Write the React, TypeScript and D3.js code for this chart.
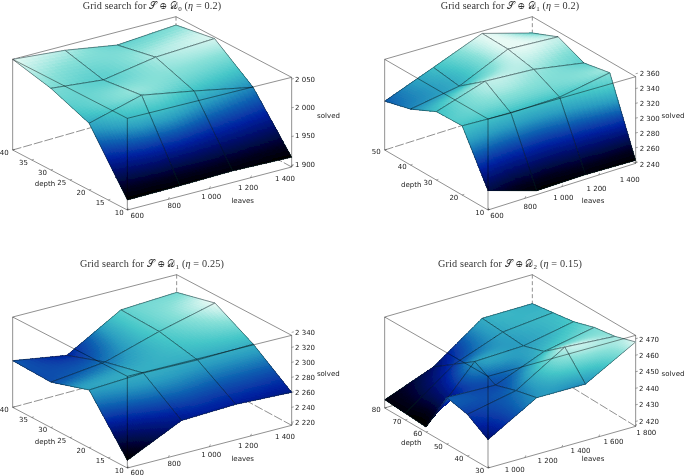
import React from "react";
import * as d3 from "d3";

// ---------- data ----------
const leavesA = [600, 856, 1112, 1400];
const leavesB = [600, 864, 1128, 1400];
const leavesC = [1000, 1264, 1528, 1800];

const depthsA = [10, 20, 30, 40];
const depthsB = [10, 20, 30, 40, 50];
const depthsC = [30, 40, 50, 60, 70, 80];

// rows follow the depths, columns follow the leaves
const solved0 = [
  [1914, 1915, 1917, 1914],
  [2011, 2036, 2020, 2000],
  [2037, 2028, 2044, 2050],
  [2053, 2045, 2030, 2038],
];
const solved1 = [
  [2264, 2244, 2245, 2243],
  [2328, 2326, 2328, 2341],
  [2327, 2348, 2345, 2334],
  [2311, 2322, 2352, 2349],
  [2302, 2327, 2353, 2334],
];
const solved2 = [
  [2226, 2260, 2263, 2260],
  [2292, 2296, 2295, 2297],
  [2276, 2284, 2306, 2325],
  [2278, 2266, 2308, 2312],
];
const solved3 = [
  [2434, 2451, 2451, 2468],
  [2442, 2448, 2466, 2464],
  [2445, 2444, 2456, 2462],
  [2420, 2451, 2452, 2458],
  [2421, 2442, 2453, 2456],
  [2422, 2433, 2454, 2454],
];

const depthTicksA = [40, 35, 30, 25, 20, 15, 10];
const depthTicksB = [50, 40, 30, 20, 10];
const depthTicksC = [80, 70, 60, 50, 40, 30];
const leafTicksA = [600, 800, 1000, 1200, 1400];
const leafTicksC = [1000, 1200, 1400, 1600, 1800];
const zTicks0 = [2050, 2000, 1950, 1900];
const zTicks1 = [2360, 2340, 2320, 2300, 2280, 2260, 2240];
const zTicks2 = [2340, 2320, 2300, 2280, 2260, 2240, 2220];
const zTicks3 = [2470, 2460, 2450, 2440, 2430, 2420];

const colorStops = [0, 0.1, 0.24, 0.4, 0.54, 0.66, 0.78, 0.9, 1];
const colorRange = ["#000000", "#02031e", "#030a5c", "#0422a0", "#0c5cb0", "#2a9cc0", "#45c6c8", "#88e0d8", "#e8faf5"];

type P = [number, number];
type Panel = {
  sub: string; eta: string; cx: number; ty: number;
  ox: number; oy: number;
  corners: number[]; // T00,B00,T10,B10,T01,B01,T11,B11 in 1/3 px
  leaves: number[]; depths: number[]; z: number[][];
  lDom: P; dDom: P; zDom: P;
  lTicks: number[]; dTicks: number[]; zTicks: number[];
  lLab: [P, P]; dLab: [P, P]; zLab: [number, number, number];
  lName: P; dName: P; zName: P;
};

const panels: Panel[] = [
  {
    sub: "0", eta: "0.2", cx: 152, ty: 9, ox: 0, oy: 0,
    corners: [382, 355, 382, 630, 875, 232, 875, 501, 38, 178, 38, 450, 528, 50, 528, 310],
    leaves: leavesA, depths: depthsA, z: solved0, lDom: [600, 1400], dDom: [10, 40], zDom: [1897, 2053],
    lTicks: leafTicksA, dTicks: depthTicksA, zTicks: zTicks0,
    lLab: [[137.3, 215], [285, 178.3]], dLab: [[4.2, 152], [119.3, 212.3]], zLab: [295, 79, 164],
    lName: [242.7, 200], dName: [45, 183.5], zName: [328.5, 115.7],
  },
  {
    sub: "1", eta: "0.2", cx: 510, ty: 9, ox: 343, oy: 0,
    corners: [435, 357, 435, 630, 878, 230, 878, 490, 125, 178, 125, 450, 568, 50, 568, 310],
    leaves: leavesB, depths: depthsB, z: solved1, lDom: [600, 1400], dDom: [10, 50], zDom: [2239, 2356],
    lTicks: leafTicksA, dTicks: depthTicksB, zTicks: zTicks1,
    lLab: [[497, 215.7], [629.7, 179]], dLab: [[376.3, 151.7], [479.7, 212.3]], zLab: [639.7, 73.3, 164],
    lName: [593, 200], dName: [411.3, 184], zName: [673, 115],
  },
  {
    sub: "1", eta: "0.25", cx: 152, ty: 267, ox: 0, oy: 238,
    corners: [382, 415, 382, 690, 875, 292, 875, 562, 38, 237, 38, 508, 530, 110, 530, 375],
    leaves: leavesB, depths: depthsA, z: solved2, lDom: [600, 1400], dDom: [10, 40], zDom: [2216, 2336],
    lTicks: leafTicksA, dTicks: depthTicksA, zTicks: zTicks2,
    lLab: [[137.3, 472.5], [285, 436.3]], dLab: [[4.3, 409.7], [119.3, 470.3]], zLab: [295, 332.3, 422.3],
    lName: [242.7, 458], dName: [45, 441.3], zName: [328.3, 373.7],
  },
  {
    sub: "2", eta: "0.15", cx: 510, ty: 267, ox: 343, oy: 238,
    corners: [435, 415, 435, 690, 878, 292, 878, 565, 125, 237, 125, 510, 568, 110, 568, 375],
    leaves: leavesC, depths: depthsC, z: solved3, lDom: [1000, 1800], dDom: [30, 80], zDom: [2417, 2472],
    lTicks: leafTicksC, dTicks: depthTicksC, zTicks: zTicks3,
    lLab: [[514.7, 469.7], [646.3, 432]], dLab: [[376.3, 409.7], [479.7, 470.3]], zLab: [639, 339, 421.3],
    lName: [593, 458], dName: [411.3, 442], zName: [673, 373],
  },
];

const fmt = (v: number) => {
  const s = String(v);
  return s.length > 3 ? s.slice(0, -3) + " " + s.slice(-3) : s;
};
const lerp = (a: number, b: number, t: number) => a + (b - a) * t;
const poly = (pts: P[]) => d3.line()(pts) + "Z";
const cr = (p0: number, p1: number, p2: number, p3: number, t: number) =>
  0.5 * (2 * p1 + (p2 - p0) * t + (2 * p0 - 5 * p1 + 4 * p2 - p3) * t * t + (3 * p1 - p0 - 3 * p2 + p3) * t * t * t);

function Surface3D({ p }: { p: Panel }) {
  const c = p.corners.map((v, i) => v / 3 + (i % 2 === 0 ? p.ox : p.oy));
  const pt = (i: number): P => [c[i * 2], c[i * 2 + 1]];
  const [T00, B00, T10, B10, T01, B01, T11, B11] = d3.range(8).map(pt);
  const tS = d3.scaleLinear().domain(p.lDom).range([0, 1]);
  const uS = d3.scaleLinear().domain(p.dDom).range([0, 1]);
  const vS = d3.scaleLinear().domain(p.zDom).range([0, 1]);

  const bil = (a: P, b: P, c2: P, d: P, t: number, u: number): P => [
    lerp(lerp(a[0], b[0], t), lerp(c2[0], d[0], t), u),
    lerp(lerp(a[1], b[1], t), lerp(c2[1], d[1], t), u),
  ];
  const project = (l: number, dep: number, z: number): P => {
    const t = tS(l), u = uS(dep), v = vS(z);
    const bot = bil(B00, B10, B01, B11, t, u);
    const top = bil(T00, T10, T01, T11, t, u);
    return [lerp(bot[0], top[0], v), lerp(bot[1], top[1], v)];
  };

  const flat = p.z.flat();
  const ext = d3.extent(flat) as P;
  const colorNorm = d3.scaleLinear().domain(ext).range([0, 1]);
  const cmap = d3.scaleLinear<string>().domain(colorStops).range(colorRange).interpolate(d3.interpolateRgb).clamp(true);

  const nI = p.depths.length, nJ = p.leaves.length;
  // values beyond the grid are extended linearly for the colour smoothing
  const gz = (i: number, j: number): number => {
    if (i < 0) return 2 * gz(0, j) - gz(1, j);
    if (i >= nI) return 2 * gz(nI - 1, j) - gz(nI - 2, j);
    if (j < 0) return 2 * gz(i, 0) - gz(i, 1);
    if (j >= nJ) return 2 * gz(i, nJ - 1) - gz(i, nJ - 2);
    return p.z[i][j];
  };
  const smoothZ = (i: number, j: number, a: number, b: number) => {
    const rows = [-1, 0, 1, 2].map((di) =>
      cr(gz(i + di, j - 1), gz(i + di, j), gz(i + di, j + 1), gz(i + di, j + 2), a));
    return cr(rows[0], rows[1], rows[2], rows[3], b);
  };

  // cells painted from the far corner to the near one
  const cells: { i: number; j: number }[] = [];
  p.depths.slice(0, -1).forEach((_, i) => p.leaves.slice(0, -1).forEach((__, j) => cells.push({ i, j })));
  cells.sort((a, b) => b.i / nI + b.j / nJ - (a.i / nI + a.j / nJ));

  const nodes: React.ReactNode[] = [];
  cells.forEach(({ i, j }) => {
    const l0 = p.leaves[j], l1 = p.leaves[j + 1], d0 = p.depths[i], d1 = p.depths[i + 1];
    const z00 = p.z[i][j], z10 = p.z[i][j + 1], z01 = p.z[i + 1][j], z11 = p.z[i + 1][j + 1];
    const zAt = (a: number, b: number) => lerp(lerp(z00, z10, a), lerp(z01, z11, a), b);
    const at = (a: number, b: number): P => project(lerp(l0, l1, a), lerp(d0, d1, b), zAt(a, b));
    const span = ext[1] - ext[0];
    const dA = Math.max(Math.abs(z10 - z00), Math.abs(z11 - z01)) / span;
    const dB = Math.max(Math.abs(z01 - z00), Math.abs(z11 - z10)) / span;
    const nA = Math.max(10, Math.min(72, Math.ceil(dA * 90)));
    const nB = Math.max(10, Math.min(72, Math.ceil(dB * 90)));
    for (let bi = nB - 1; bi >= 0; bi--) {
      for (let ai = nA - 1; ai >= 0; ai--) {
        const a0 = ai / nA, a1 = (ai + 1) / nA, b0 = bi / nB, b1 = (bi + 1) / nB;
        const am = (a0 + a1) / 2, bm = (b0 + b1) / 2;
        const col = cmap(colorNorm(lerp(zAt(am, bm), smoothZ(i, j, am, bm), 0.8)));
        nodes.push(
          <path key={`${i}-${j}-${ai}-${bi}`} d={poly([at(a0, b0), at(a1, b0), at(a1, b1), at(a0, b1)])} fill={col} stroke={col} strokeWidth={0.7} shapeRendering="crispEdges" />
        );
      }
    }
    nodes.push(
      <path key={`m${i}-${j}`} d={poly([at(0, 0), at(1, 0), at(1, 1), at(0, 1)])} fill="none" stroke="#0c1a22" strokeOpacity={0.75} strokeWidth={0.65} />
    );
  });

  const seg = (a: P, b: P, k: string, dash?: string) => (
    <line key={k} x1={a[0]} y1={a[1]} x2={b[0]} y2={b[1]} stroke="#000" strokeOpacity={0.58} strokeWidth={0.75} strokeDasharray={dash} />
  );
  const zBot = p.zDom[0];
  const lMax = p.lDom[1], lMin = p.lDom[0], dMin = p.dDom[0];

  const lx = d3.scaleLinear().domain([p.lTicks[0], p.lTicks[p.lTicks.length - 1]]);
  const lX = lx.copy().range([p.lLab[0][0], p.lLab[1][0]]);
  const lY = lx.copy().range([p.lLab[0][1], p.lLab[1][1]]);
  const dd = d3.scaleLinear().domain([p.dTicks[0], p.dTicks[p.dTicks.length - 1]]);
  const dX = dd.copy().range([p.dLab[0][0], p.dLab[1][0]]);
  const dY = dd.copy().range([p.dLab[0][1], p.dLab[1][1]]);
  const zY = d3.scaleLinear().domain([p.zTicks[0], p.zTicks[p.zTicks.length - 1]]).range([p.zLab[1], p.zLab[2]]);

  const textSt = { fontFamily: "'DejaVu Sans'", fontSize: 7, fill: "#222" };
  const tick = (a: P, dx: number, dy: number, k: string) => (
    <line key={k} x1={a[0]} y1={a[1]} x2={a[0] + dx} y2={a[1] + dy} stroke="#000" strokeOpacity={0.58} strokeWidth={0.6} />
  );

  return (
    <g>
      {seg(T01, T11, "b1")}
      {seg(T11, T10, "b2")}
      {seg(T11, B11, "b3", "4 2.5")}
      {seg(B01, B11, "b4", "9 2")}
      {seg(B10, B11, "b5", "9 2")}
      {seg(T01, B01, "b6")}
      {seg(T10, B10, "b7")}
      {seg(B00, B01, "b8")}
      {seg(B00, B10, "b9")}
      {nodes}
      {seg(T00, T01, "f1")}
      {seg(T00, T10, "f2")}
      {seg(B00, T00, "f3")}
      {p.zTicks.map((v) => tick(project(lMax, dMin, v), 2.2, -0.5, "zt" + v))}
      {p.lTicks.map((v) => tick(project(v, dMin, zBot), 0.9, -2.2, "lt" + v))}
      {p.dTicks.map((v) => tick(project(lMin, v, zBot), 2.1, -0.7, "dt" + v))}
      {p.zTicks.map((v) => (
        <text key={"zl" + v} x={p.zLab[0]} y={zY(v)} dy="0.36em" {...textSt}>{fmt(v)}</text>
      ))}
      {p.lTicks.map((v) => (
        <text key={"ll" + v} x={lX(v)} y={lY(v)} dy="0.36em" textAnchor="middle" {...textSt}>{fmt(v)}</text>
      ))}
      {p.dTicks.map((v) => (
        <text key={"dl" + v} x={dX(v)} y={dY(v)} dy="0.36em" textAnchor="middle" {...textSt}>{fmt(v)}</text>
      ))}
      <text x={p.lName[0]} y={p.lName[1]} dy="0.36em" textAnchor="middle" {...textSt}>leaves</text>
      <text x={p.dName[0]} y={p.dName[1]} dy="0.36em" textAnchor="middle" {...textSt}>depth</text>
      <text x={p.zName[0]} y={p.zName[1]} dy="0.36em" textAnchor="middle" {...textSt}>solved</text>
      <text x={p.cx} y={p.ty} textAnchor="middle" fontFamily="'Liberation Serif'" fontSize={10.2} letterSpacing={0.15} fill="#333">
        Grid search for{" "}
        <tspan>𝒮</tspan> ⊕ <tspan>𝒟</tspan>
        <tspan fontSize={7} dy={1.5}>{p.sub}</tspan>
        <tspan dy={-1.5}> (</tspan><tspan fontStyle="italic">η</tspan> = {p.eta})
      </text>
    </g>
  );
}

export default function App() {
  return (
    <svg width={685} height={476} viewBox="0 0 685 476" style={{ position: "absolute", left: 0, top: 0, background: "#fff" }}>
      <defs>
        <filter id="soft" x="0" y="0" width="100%" height="100%">
          <feGaussianBlur stdDeviation="0.35" />
        </filter>
      </defs>
      <g filter="url(#soft)">
        {panels.map((p, i) => <Surface3D key={i} p={p} />)}
      </g>
    </svg>
  );
}
